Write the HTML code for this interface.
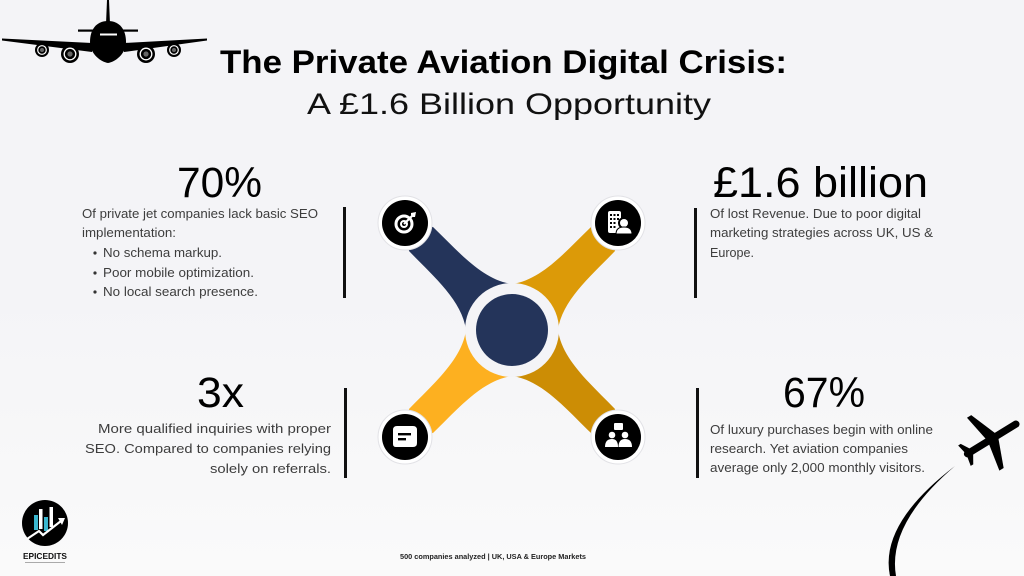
<!DOCTYPE html>
<html>
<head>
<meta charset="utf-8">
<style>
  html,body{margin:0;padding:0;background:#f6f6f8;}
  svg{display:block;}
  text{font-family:"Liberation Sans", Arial, sans-serif;}
</style>
</head>
<body>
<svg width="1024" height="576" viewBox="0 0 1024 576" xmlns="http://www.w3.org/2000/svg">
  <defs>
    <linearGradient id="bg" x1="0" y1="0" x2="0" y2="1">
      <stop offset="0" stop-color="#f4f4f7"/>
      <stop offset="0.5" stop-color="#f4f4f7"/>
      <stop offset="1" stop-color="#fafafa"/>
    </linearGradient>
    <clipPath id="qTL"><rect x="-200" y="-200" width="200" height="200"/></clipPath>
    <clipPath id="qTR"><rect x="0" y="-200" width="200" height="200"/></clipPath>
    <clipPath id="qBL"><rect x="-200" y="0" width="200" height="200"/></clipPath>
    <clipPath id="qBR"><rect x="0" y="0" width="200" height="200"/></clipPath>
    <path id="xshape" d="M -79,-103 C -55,-80 -30,-50 0,-46 C 30,-50 55,-80 79,-103 L 107,-107 L 103,-79 C 80,-55 50,-30 46,0 C 50,30 80,55 103,79 L 107,107 L 79,103 C 55,80 30,50 0,46 C -30,50 -55,80 -79,103 L -107,107 L -103,79 C -80,55 -50,30 -46,0 C -50,-30 -80,-55 -103,-79 L -107,-107 Z"/>
  </defs>

  <rect x="0" y="0" width="1024" height="576" fill="url(#bg)"/>

  <!-- Top-left airplane (front view) -->
  <g fill="#000">
    <polygon points="107,0 109,0 110,24 106,24"/>
    <rect x="78" y="29.5" width="60" height="2.2"/>
    <polygon points="2,38.5 92,43 92,52 2,40.5"/>
    <polygon points="207,38.5 124,43 124,52 207,40.5"/>
    <path d="M108,21 C120,21 126,30 126,42 C126,54 115,62 108,63 C101,62 90,54 90,42 C90,30 96,21 108,21 Z"/>
    <rect x="100" y="33.5" width="17" height="2" fill="#fff"/>
    <g>
      <circle cx="42" cy="50" r="7"/>
      <circle cx="42" cy="50" r="4.3" fill="none" stroke="#fff" stroke-width="1.2"/>
      <circle cx="42" cy="50" r="2" fill="#666"/>
      <circle cx="70" cy="54" r="9"/>
      <circle cx="70" cy="54" r="5.8" fill="none" stroke="#fff" stroke-width="1.3"/>
      <circle cx="70" cy="54" r="2.6" fill="#666"/>
      <circle cx="146" cy="54" r="9"/>
      <circle cx="146" cy="54" r="5.8" fill="none" stroke="#fff" stroke-width="1.3"/>
      <circle cx="146" cy="54" r="2.6" fill="#666"/>
      <circle cx="174" cy="50" r="7"/>
      <circle cx="174" cy="50" r="4.3" fill="none" stroke="#fff" stroke-width="1.2"/>
      <circle cx="174" cy="50" r="2" fill="#666"/>
    </g>
  </g>

  <!-- Title -->
  <text x="220" y="73" font-size="32" font-weight="bold" fill="#000" textLength="567" lengthAdjust="spacingAndGlyphs">The Private Aviation Digital Crisis:</text>
  <text x="307" y="114" font-size="30" fill="#111" textLength="404" lengthAdjust="spacingAndGlyphs">A £1.6 Billion Opportunity</text>

  <!-- Big numbers -->
  <text x="177" y="197" font-size="43" fill="#000" textLength="85" lengthAdjust="spacingAndGlyphs">70%</text>
  <text x="713" y="197" font-size="43" fill="#000" textLength="215" lengthAdjust="spacingAndGlyphs">£1.6 billion</text>
  <text x="197" y="407" font-size="43" fill="#000" textLength="47" lengthAdjust="spacingAndGlyphs">3x</text>
  <text x="783" y="407" font-size="43" fill="#000" textLength="82" lengthAdjust="spacingAndGlyphs">67%</text>

  <!-- Body texts -->
  <g font-size="12.5" fill="#3d3d3d">
    <text x="82" y="218" textLength="236" lengthAdjust="spacingAndGlyphs">Of private jet companies lack basic SEO</text>
    <text x="82" y="237" textLength="94" lengthAdjust="spacingAndGlyphs">implementation:</text>
    <text x="103" y="257" textLength="119" lengthAdjust="spacingAndGlyphs">No schema markup.</text>
    <text x="103" y="277" textLength="151" lengthAdjust="spacingAndGlyphs">Poor mobile optimization.</text>
    <text x="103" y="296" textLength="155" lengthAdjust="spacingAndGlyphs">No local search presence.</text>

    <text x="710" y="218" textLength="211" lengthAdjust="spacingAndGlyphs">Of lost Revenue. Due to poor digital</text>
    <text x="710" y="237" textLength="223" lengthAdjust="spacingAndGlyphs">marketing strategies across UK, US &amp;</text>
    <text x="710" y="257" textLength="44" lengthAdjust="spacingAndGlyphs">Europe.</text>

    <text x="98" y="433" textLength="233" lengthAdjust="spacingAndGlyphs">More qualified inquiries with proper</text>
    <text x="85" y="453" textLength="246" lengthAdjust="spacingAndGlyphs">SEO. Compared to companies relying</text>
    <text x="210" y="473" textLength="121" lengthAdjust="spacingAndGlyphs">solely on referrals.</text>

    <text x="710" y="434" textLength="223" lengthAdjust="spacingAndGlyphs">Of luxury purchases begin with online</text>
    <text x="710" y="453" textLength="198" lengthAdjust="spacingAndGlyphs">research. Yet aviation companies</text>
    <text x="710" y="472" textLength="215" lengthAdjust="spacingAndGlyphs">average only 2,000 monthly visitors.</text>
  </g>
  <g fill="#333">
    <circle cx="95" cy="253" r="1.6"/>
    <circle cx="95" cy="273" r="1.6"/>
    <circle cx="95" cy="292" r="1.6"/>
  </g>

  <!-- Vertical bars -->
  <g fill="#111">
    <rect x="343" y="207" width="3" height="91"/>
    <rect x="694" y="208" width="3" height="90"/>
    <rect x="344" y="388" width="3" height="90"/>
    <rect x="696" y="388" width="3" height="90"/>
  </g>

  <!-- Central X graphic -->
  <g transform="translate(512,330)">
    <use href="#xshape" fill="#24345a" clip-path="url(#qTL)"/>
    <use href="#xshape" fill="#dc9a08" clip-path="url(#qTR)"/>
    <use href="#xshape" fill="#fdb020" clip-path="url(#qBL)"/>
    <use href="#xshape" fill="#cc8d05" clip-path="url(#qBR)"/>
    <circle cx="0" cy="0" r="47" fill="#f4f4f7"/>
    <circle cx="0" cy="0" r="36" fill="#24345a"/>
  </g>

  <!-- Icon circles -->
  <g>
    <!-- TL target -->
    <circle cx="405" cy="223" r="27" fill="#fff" stroke="#e2e2e6" stroke-width="1"/>
    <circle cx="405" cy="223" r="23" fill="#000"/>
    <circle cx="404" cy="224" r="8" fill="none" stroke="#fff" stroke-width="3"/>
    <circle cx="404" cy="224" r="3" fill="none" stroke="#fff" stroke-width="2"/>
    <line x1="404" y1="224" x2="413" y2="215" stroke="#fff" stroke-width="2.2"/>
    <polygon points="411,213 416,212 415,217 413,217 411,215" fill="#fff"/>

    <!-- TR building + person -->
    <circle cx="618" cy="223" r="27" fill="#fff" stroke="#e2e2e6" stroke-width="1"/>
    <circle cx="618" cy="223" r="23" fill="#000"/>
    <rect x="608" y="211" width="13" height="22" rx="2" fill="#fff"/>
    <g fill="#000">
      <rect x="610" y="214" width="2" height="2"/><rect x="613.5" y="214" width="2" height="2"/><rect x="617" y="214" width="2" height="2"/>
      <rect x="610" y="218" width="2" height="2"/><rect x="613.5" y="218" width="2" height="2"/><rect x="617" y="218" width="2" height="2"/>
      <rect x="610" y="222" width="2" height="2"/><rect x="613.5" y="222" width="2" height="2"/>
      <rect x="610" y="226" width="2" height="2"/><rect x="613.5" y="226" width="2" height="2"/>
    </g>
    <circle cx="624" cy="223" r="6" fill="#000"/>
    <circle cx="624" cy="223" r="4" fill="#fff"/>
    <path d="M616,234 Q616,227 624,227 Q632,227 632,234 Z" fill="#fff" stroke="#000" stroke-width="1"/>

    <!-- BL chat -->
    <circle cx="405" cy="437" r="27" fill="#fff" stroke="#e2e2e6" stroke-width="1"/>
    <circle cx="405" cy="437" r="23" fill="#000"/>
    <path d="M397,426 H413 Q417,426 417,430 V443 Q417,447 413,447 H396 Q393,447 393,444 V430 Q393,426 397,426 Z" fill="#fff"/>
    <rect x="398" y="433" width="13" height="2.4" fill="#000"/>
    <rect x="398" y="438" width="8" height="2.4" fill="#000"/>

    <!-- BR org -->
    <circle cx="618" cy="437" r="27" fill="#fff" stroke="#e2e2e6" stroke-width="1"/>
    <circle cx="618" cy="437" r="23" fill="#000"/>
    <rect x="614" y="423" width="9" height="7" rx="1" fill="#fff"/>
    <circle cx="612" cy="435" r="3.3" fill="#fff"/>
    <circle cx="625" cy="435" r="3.3" fill="#fff"/>
    <path d="M605,447 Q605,439 612,439 Q618,439 618,447 Z" fill="#fff"/>
    <path d="M618.5,447 Q618.5,439 625,439 Q632,439 632,447 Z" fill="#fff"/>
  </g>

  <!-- Bottom-right airplane (top view) + trail -->
  <path d="M955,466 Q879,524 890,576 L896,576 Q887,524 955,466 Z" fill="#000"/>
  <g transform="translate(990,440) rotate(58.5)" fill="#000">
    <rect x="-3.6" y="-34" width="7.2" height="64" rx="3.6"/>
    <polygon points="-3,-8 -31,3 -31,8 -3,3"/>
    <polygon points="3,-8 31,3 31,8 3,3"/>
    <polygon points="-2,21 -12,27 -12,30 -2,28"/>
    <polygon points="2,21 12,27 12,30 2,28"/>
  </g>

  <!-- Logo -->
  <circle cx="45" cy="523" r="23" fill="#000"/>
  <rect x="34" y="515" width="4" height="15" fill="#3ab7cf"/>
  <rect x="39" y="509" width="3.5" height="20" fill="#fff"/>
  <rect x="44" y="517" width="4" height="14" fill="#3ab7cf"/>
  <rect x="49.5" y="507" width="3.5" height="20" fill="#fff"/>
  <polyline points="27,539 39,531 43,535 61,521" fill="none" stroke="#fff" stroke-width="2.2"/>
  <polygon points="58,518 65,518 62,525" fill="#fff"/>
  <text x="45" y="559" font-size="8.5" font-weight="bold" fill="#111" text-anchor="middle" textLength="44" lengthAdjust="spacingAndGlyphs">EPICEDITS</text>
  <rect x="25" y="562" width="40" height="1" fill="#aaa"/>

  <!-- Footer -->
  <text x="400" y="559" font-size="7" font-weight="bold" fill="#222" textLength="186" lengthAdjust="spacingAndGlyphs">500 companies analyzed | UK, USA &amp; Europe Markets</text>
</svg>
</body>
</html>
